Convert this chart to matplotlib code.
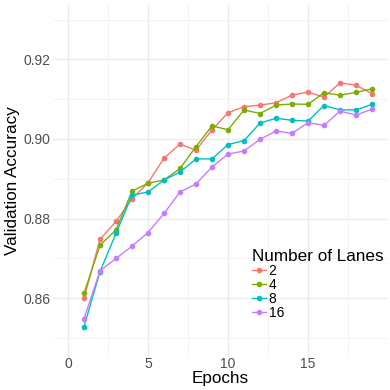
import numpy as np
import matplotlib
matplotlib.use("Agg")
import matplotlib.pyplot as plt

# --- Data: validation accuracy per epoch for each number of lanes ---
epochs = np.arange(1, 20)
lanes = ["2", "4", "8", "16"]
acc_2 = [0.8600, 0.8748, 0.8793, 0.8850, 0.8890, 0.8952, 0.8987, 0.8972, 0.9023, 0.9066,
         0.9081, 0.9085, 0.9091, 0.9110, 0.9118, 0.9105, 0.9141, 0.9135, 0.9114]
acc_4 = [0.8613, 0.8733, 0.8772, 0.8869, 0.8889, 0.8897, 0.8926, 0.8981, 0.9033, 0.9023,
         0.9073, 0.9064, 0.9085, 0.9088, 0.9087, 0.9116, 0.9110, 0.9117, 0.9126]
acc_8 = [0.8529, 0.8667, 0.8763, 0.8859, 0.8867, 0.8897, 0.8917, 0.8950, 0.8950, 0.8986,
         0.8996, 0.9040, 0.9052, 0.9047, 0.9045, 0.9084, 0.9073, 0.9073, 0.9087]
acc_16 = [0.8549, 0.8669, 0.8700, 0.8731, 0.8765, 0.8813, 0.8867, 0.8887, 0.8930, 0.8962,
          0.8970, 0.8999, 0.9020, 0.9014, 0.9041, 0.9034, 0.9070, 0.9060, 0.9075]
colors = ["#F8766D", "#7CAE00", "#00BFC4", "#C77CFF"]

plt.rcParams["font.family"] = ["Liberation Sans", "DejaVu Sans"]

fig = plt.figure(figsize=(3.9, 3.9), dpi=100)
ax = fig.add_axes([53 / 390, 32 / 390, 335 / 390, 354 / 390])

for lab, acc, col in zip(lanes, [acc_2, acc_4, acc_8, acc_16], colors):
    ax.plot(epochs, acc, "-o", color=col, lw=1.0, ms=3.0, label=lab, zorder=3)

# --- ggplot theme_minimal look ---
ax.set_xlim(-0.94, 20.0)
ax.set_ylim(0.8450, 0.9339)
ax.set_xticks([0, 5, 10, 15])
ax.set_xticks([2.5, 7.5, 12.5, 17.5], minor=True)
ax.set_yticks([0.86, 0.88, 0.90, 0.92])
ax.set_yticks([0.85, 0.87, 0.89, 0.91, 0.93], minor=True)
ax.set_yticklabels(["0.86", "0.88", "0.90", "0.92"])
ax.grid(True, which="major", color="#EBEBEB", lw=1.0)
ax.grid(True, which="minor", color="#F2F2F2", lw=0.6)
ax.set_axisbelow(True)
for s in ax.spines.values():
    s.set_visible(False)
ax.tick_params(which="both", length=0, labelsize=10, labelcolor="#4D4D4D")
ax.tick_params(axis="x", pad=-1)
ax.tick_params(axis="y", pad=2)

ax.set_xlabel("Epochs", fontsize=12.3, labelpad=0)
ax.set_ylabel("Validation Accuracy", fontsize=12.3, labelpad=2)

leg = ax.legend(title="Number of Lanes", loc="upper left",
                bbox_to_anchor=(252 / 390, 1 - 249 / 390), bbox_transform=fig.transFigure,
                frameon=False, fontsize=10, title_fontsize=12.3, handlelength=1.0,
                handletextpad=0.2, labelspacing=0.0, borderaxespad=0, borderpad=0)
leg._legend_box.align = "left"

fig.savefig("out.png", dpi=100)
